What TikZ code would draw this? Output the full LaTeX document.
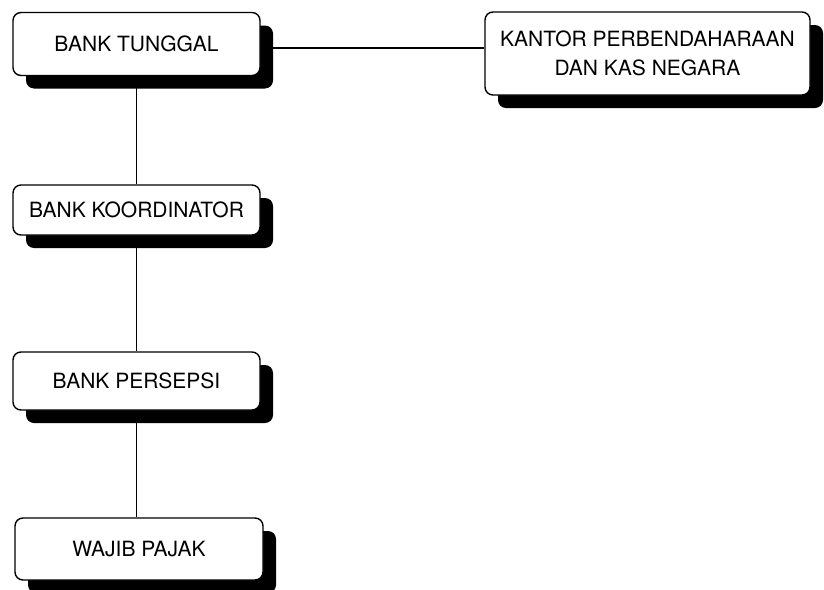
\documentclass[tikz,border=0pt]{standalone}
\usepackage{fontspec}
\setmainfont{TeX Gyre Heros}
\usetikzlibrary{shadows}

\begin{document}
\begin{tikzpicture}[x = 1pt, y = -1pt,
					box/.style = {draw = black, line width = 1.4pt, rounded corners = 8pt, fill = white,
						align = center, inner sep = 0pt, font = \fontsize{21}{29}\selectfont,
						drop shadow = {shadow xshift = 13pt, shadow yshift = -13pt, fill = black, opacity = 1}},
					link/.style = {black, line width = 1.2pt}]
					\useasboundingbox (0, 0) rectangle (824, 589);
					\node [box, minimum width = 247pt, minimum height = 63pt] (tunggal) at (136.5, 44) {BANK TUNGGAL};
					\node [box, minimum width = 325pt, minimum height = 83pt] (kppn) at (647.5, 53.5) {KANTOR PERBENDAHARAAN\\DAN KAS NEGARA};
					\node [box, minimum width = 247pt, minimum height = 50pt] (koordinator) at (136.5, 210) {BANK KOORDINATOR};
					\node [box, minimum width = 247pt, minimum height = 58pt] (persepsi) at (136.5, 381) {BANK PERSEPSI};
					\node [box, minimum width = 248pt, minimum height = 62pt] (wajib) at (139, 549) {WAJIB PAJAK};
					\draw [link] ([yshift = -4pt] tunggal.east) -- ([yshift = -4pt] tunggal.east -| kppn.west);
					\draw [link] (tunggal.south) -- (koordinator.north);
					\draw [link] (koordinator.south) -- (persepsi.north);
					\draw [link] (persepsi.south) -- (persepsi.south |- wajib.north);
				\end{tikzpicture}
\end{document}
